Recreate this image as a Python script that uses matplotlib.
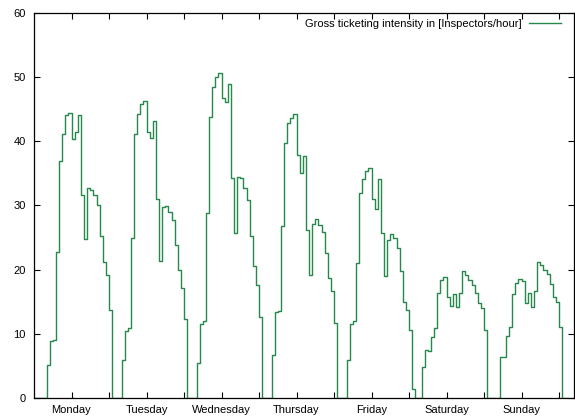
import matplotlib
matplotlib.use("Agg")
import matplotlib.pyplot as plt
import numpy as np

days = ["Monday", "Tuesday", "Wednesday", "Thursday", "Friday", "Saturday", "Sunday"]
start_hours = [4, 4, 4, 4, 4, 4, 5]

monday = [5.1, 8.9, 9.1, 22.7, 36.9, 41.2, 44.1, 44.4, 40.3, 41.4, 44.1, 31.6, 24.8,
          32.8, 32.4, 31.6, 30.0, 25.3, 21.2, 19.2, 13.7]
tuesday = [5.9, 10.5, 10.9, 25.0, 41.1, 44.3, 45.8, 46.3, 41.5, 40.5, 43.2, 31.0, 21.4,
           29.8, 29.9, 29.0, 27.7, 23.8, 19.9, 17.1, 12.3]
wednesday = [5.5, 11.6, 12.0, 28.9, 43.8, 48.4, 50.1, 50.7, 46.7, 46.2, 48.9, 34.3, 25.7,
             34.5, 34.3, 32.8, 30.9, 25.2, 20.5, 17.6, 12.7]
thursday = [6.7, 13.4, 13.6, 26.8, 39.8, 42.9, 43.7, 44.3, 37.9, 35.1, 37.7, 26.2, 19.1,
            27.1, 27.9, 27.0, 25.8, 22.6, 18.7, 16.6, 11.7]
friday = [6.0, 11.5, 12.0, 21.1, 31.9, 34.2, 35.4, 35.9, 31.0, 29.4, 34.1, 25.7, 19.0,
          24.6, 25.6, 24.9, 23.3, 19.8, 15.0, 13.7, 10.6, 1.35]
saturday = [4.8, 7.5, 7.3, 9.5, 10.9, 16.3, 18.4, 18.9, 15.8, 14.3, 16.2, 14.2, 16.3,
            19.8, 19.2, 18.4, 17.6, 16.3, 14.8, 14.0, 10.6]
sunday = [6.4, 6.4, 9.7, 11.0, 16.2, 18.0, 18.5, 18.2, 14.8, 16.4, 14.2, 16.6,
          21.2, 20.7, 20.0, 19.3, 17.8, 15.8, 14.9, 11.0]

series = [monday, tuesday, wednesday, thursday, friday, saturday, sunday]
legend_label = "Gross ticketing intensity in [Inspectors/hour]"

# hourly timeline over the week (hours from Monday 00:00)
n_hours = 7 * 24 + 4
values = np.zeros(n_hours)
for d, (s, vals) in enumerate(zip(start_hours, series)):
    for i, v in enumerate(vals):
        values[d * 24 + s + i] = v
hours = np.arange(n_hours)

plt.rcParams['font.family'] = ['Liberation Sans', 'DejaVu Sans']
fig = plt.figure(figsize=(5.75, 4.17), dpi=100)
ax = fig.add_axes([34 / 575, 1 - 398 / 417, 540 / 575, 385 / 417])

ax.plot(hours, values, drawstyle='steps-post', color='#24894a', lw=1.0,
        label=legend_label, zorder=2)

ax.set_xlim(0, 172.8)
ax.set_ylim(0, 60)
ax.set_yticks(np.arange(0, 61, 10))
ax.set_xticks([12 + 24 * k for k in range(7)])
ax.set_xticklabels(days)
ax.set_xticks([24 * k for k in range(1, 8)], minor=True)

ax.tick_params(axis='both', which='both', direction='in', top=True, right=True,
               length=4, width=0.8, labelsize=8, color='black')
ax.tick_params(axis='x', which='major', pad=5)
ax.tick_params(axis='y', which='major', pad=6)
for sp in ax.spines.values():
    sp.set_linewidth(0.9)
    sp.set_zorder(3)

leg = ax.legend(loc='upper right', bbox_to_anchor=(0.9824, 0.9938), frameon=False,
                fontsize=8, markerfirst=False, handlelength=2.9, handletextpad=0.7,
                borderaxespad=0.0, borderpad=0.3)

fig.savefig("out.png", dpi=100)
